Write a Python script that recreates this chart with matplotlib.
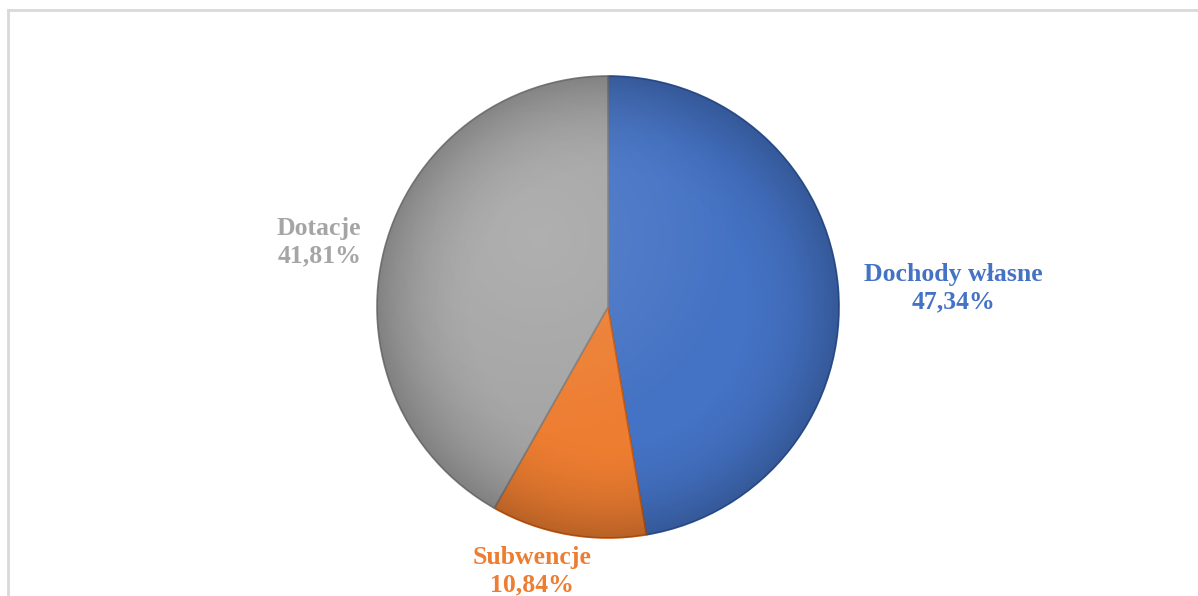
import matplotlib
matplotlib.use("Agg")
import matplotlib.pyplot as plt
import numpy as np
from matplotlib.patches import Circle
from matplotlib.lines import Line2D

categories = ["Dochody własne", "Subwencje", "Dotacje"]
values = [47.34, 10.84, 41.81]
value_labels = ["47,34%", "10,84%", "41,81%"]
colors = ["#4472C4", "#ED7D31", "#A5A5A5"]
edge_colors = ["#2F5597", "#C55A11", "#7F7F7F"]
text_colors = ["#4472C4", "#ED7D31", "#A5A5A5"]

W, H = 1198, 596
fig = plt.figure(figsize=(W / 100, H / 100), dpi=100)
fig.patch.set_facecolor("white")

# outer border (top and left only)
bc = "#D9D9D9"
fig.add_artist(Line2D([8 / W, 1.0], [1 - 10 / H, 1 - 10 / H], color=bc, lw=2, transform=fig.transFigure))
fig.add_artist(Line2D([8 / W, 8 / W], [1 - 10 / H, 0], color=bc, lw=2, transform=fig.transFigure))

cx, cy, r = 608, 307, 231
ax = fig.add_axes([(cx - r) / W, (H - cy - r) / H, 2 * r / W, 2 * r / H])
ax.axis("off")

wedges, _ = ax.pie(values, colors=colors, startangle=90, counterclock=False,
                   radius=1.0, wedgeprops=dict(linewidth=1.2))
for w, ec in zip(wedges, edge_colors):
    w.set_edgecolor(ec)

# subtle radial shading
n = 400
xx, yy = np.meshgrid(np.linspace(-1, 1, n), np.linspace(-1, 1, n))
rr = np.sqrt(xx ** 2 + yy ** 2)
shade = np.zeros((n, n, 4))
shade[..., 3] = np.clip((rr - 0.55) / 0.45, 0, 1) ** 2 * 0.22
im = ax.imshow(shade, extent=(-1, 1, -1, 1), origin="lower", zorder=3)
im.set_clip_path(Circle((0, 0), 1.0, transform=ax.transData))
hl = np.zeros((n, n, 4))
hl[..., :3] = 1.0
hl[..., 3] = np.clip(1 - np.sqrt((xx + 0.3) ** 2 + (yy - 0.3) ** 2) / 0.9, 0, 1) * 0.12
im2 = ax.imshow(hl, extent=(-1, 1, -1, 1), origin="lower", zorder=3)
im2.set_clip_path(Circle((0, 0), 1.0, transform=ax.transData))

ax.set_xlim(-1, 1)
ax.set_ylim(-1, 1)
ax.set_aspect("equal")

label_pos = [(1.495, 0.08), (-0.33, -1.145), (-1.25, 0.28)]
for cat, vl, tc, (lx, ly) in zip(categories, value_labels, text_colors, label_pos):
    ax.text(lx, ly, f"{cat}\n{vl}", ha="center", va="center", color=tc,
            fontsize=18.5, fontweight="bold", family=["Liberation Serif", "DejaVu Serif"],
            linespacing=1.25, clip_on=False)

fig.savefig("out.png", dpi=100, facecolor="white")
